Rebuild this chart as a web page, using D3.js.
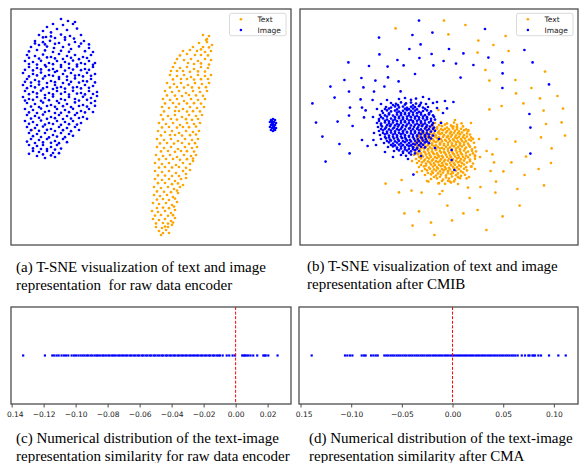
<!DOCTYPE html>
<html>
<head>
<meta charset="utf-8">
<script src="https://cdn.jsdelivr.net/npm/d3@7"></script>
<style>
body{margin:0;background:#fff}
svg{display:block}
.cap{font-family:"Liberation Serif","Times New Roman",serif;font-size:15px;fill:#000}
.tick text{font-family:"DejaVu Sans",sans-serif;font-size:7.5px;fill:#222}
.leg{font-family:"DejaVu Sans",sans-serif;font-size:7.5px;fill:#222}
</style>
</head>
<body>
<script>
// (a) raw encoder t-SNE
var textA = [
[26,46],[29,45.5],[27.5,43.5],[28,44],
[24,42],[28,42.5],[30.5,41],[21,40],[26,40],[25,38.8],[29,39.8],
[16,38],[19.5,38.5],[23,38],[27,37.5],[30,38],[25,36],[18,36.5],[14.5,35.8],[22,36],[28.5,35.8],
[13,34],[16.5,33.5],[20,34],[23.5,33],[27,34],[30,33.5],[21.5,31.5],[12,32],[18.5,32],[25,31.8],[29,31.2],
[11,30],[14.5,29.5],[18,30],[21.5,29],[25,30],[28.5,29.5],[16,28],[10,28],[13,28],[19.5,27.6],[23.5,27.8],[27,27.7],
[9.5,26],[13,25.5],[16.5,26],[20,25],[23.5,26],[27,25.5],[30,26],[18,24],[11,23.8],[15,24],[21.5,23.7],[25,23.9],[28.5,24],
[8,22],[11.5,21.5],[15,22],[18.5,21],[22,22],[25.5,21.5],[29,22],[13,20],[9.5,19.8],[16.5,19.7],[20.5,19.8],[24,19.6],[27.5,19.9],
[7,18],[10.5,17.5],[14,18],[17.5,17],[21,18],[24.5,17.5],[28,18],[19,16],[8,15.8],[12,15.7],[15.5,15.5],[22.5,15.8],[26,15.6],
[6,14],[9.5,13.5],[13,14],[16.5,13],[20,14],[23.5,13.5],[27,14],[11,12],[7,11.8],[14,11.6],[18,11.8],[21.5,11.9],[25,11.7],
[5.5,10],[9,9.5],[12.5,10],[16,9],[19.5,10],[23,9.5],[26.5,10],[14,8],[6.5,7.8],[12,8],[18,7.7],[21,7.9],[24.5,7.8],
[5,6],[8.5,5.5],[12,6],[15.5,5],[19,6],[22.5,5.5],[25.5,6],[10,4],[6,3.8],[13,3.7],[17.5,3.9],[20.5,3.6],[23.5,4],
[4,2],[7.5,1.5],[11,2],[14.5,1],[18,2],[21.5,1.5],[24.5,2],[16,0],[5.5,-0.2],[9,0],[13,-0.3],[19,-0.1],[22.5,0.2],
[3.5,-2],[7,-2.5],[10.5,-2],[14,-3],[17.5,-2],[21,-2.5],[24,-2],[12,-4],[5,-4.2],[9.5,-4],[15.5,-4.3],[19.5,-4.1],[22.5,-3.8],
[3,-6],[6.5,-6.5],[10,-6],[13.5,-7],[17,-6],[20.5,-6.5],[23.5,-6],[8,-8],[4.5,-8.2],[11.5,-8.3],[15.5,-8],[19,-8.4],[22,-8.1],
[3,-10],[6.5,-10.5],[10,-10],[13.5,-11],[17,-10],[20.5,-10.5],[23,-10],[15,-12],[5,-12.2],[8.5,-12],[12,-12.4],[18,-12.1],[21.5,-12.3],
[2.5,-14],[6,-14.5],[9.5,-14],[13,-15],[16.5,-14],[20,-14.5],[22.5,-14],[11,-16],[4,-16.2],[7.5,-16],[14.5,-16.4],[18,-16.1],[21,-15.8],
[2,-18],[5.5,-18.5],[9,-18],[12.5,-19],[16,-18],[19.5,-18.5],[21,-17],[7,-20],[4,-20.3],[10.5,-20.2],[14,-20],[17.5,-20.4],
[2,-22],[5.5,-22.5],[9,-22],[12.5,-23],[16,-22],[19.5,-21.5],[14,-24.5],[3.5,-24.2],[7,-24.3],[10.5,-24.5],[17.5,-23.5],
[2,-26],[5.5,-26.5],[9,-26],[12,-27],[15,-26],[17.5,-25.5],[7,-28],[3.5,-28.1],[10.5,-28.6],[13.5,-28.2],
[1.5,-30],[5,-30.5],[8.5,-30],[11.5,-31],[14.5,-30],[16,-29],[3,-32.2],[6.5,-32.4],[10,-32.6],[13,-31.8],
[1.5,-34],[4.5,-34.5],[8,-34],[11,-35],[13.5,-33],[6,-36],[3,-36.3],[9,-36.5],[12,-35.8],
[1,-38],[4,-38.5],[7.5,-38],[10.5,-39],[13,-37.5],[3,-40.5],[6,-40.3],[9,-40.6],[11.5,-39.8],
[0.5,-42],[3.5,-42.5],[7,-42],[10,-43],[12,-41.5],[5,-44],[2,-44.3],[8.5,-44.4],[11,-44.1],
[1,-46],[4,-46.5],[7,-46],[10,-47],[12,-45.5],[6,-48],[2.5,-48.2],[8.5,-48.3],[11,-47.8],
[2.5,-50],[5.5,-50.5],[8.5,-50],[10.5,-49],[4,-52],[7,-49.8],
[6,-53],[9,-53],[7.5,-51.5],[5,-54],[-59.5,-1.5]
]
var imageA = [
[-45,54],[-41.5,53],[-38,52.5],[-49,51.5],[-44,51],[-39,51.5],[-52,50],[-47,49],[-42,48.5],[-37,49.2],[-54,48],[-50,47.3],
[-56,46],[-45,46.2],[-40.5,45.5],[-35,46],[-52.5,45],[-48,44.5],[-54,44.8],[-50,45.3],[-43,44.8],[-38.5,44.2],
[-58,43],[-54,42.4],[-50.5,43.1],[-46,42],[-43,43.6],[-38,42.5],[-33.5,43],[-56,41],[-58,41.8],[-53,41.3],[-48,41.6],[-41,41.2],[-35,41.7],[-31,41.3],
[-60,40],[-52,40.2],[-48.5,39.5],[-44,40],[-40,39],[-36,40.3],[-31,39.5],[-57,38.5],[-49,37.5],[-61,37.8],[-53,38.3],[-45,38.1],[-41,37.6],[-33,37.9],[-29,37.5],
[-62,36],[-58,35.5],[-54,36.2],[-50,35],[-46,36.5],[-42,35.5],[-38,36],[-34,35],[-30,36],[-44,34],[-61,34.6],[-56,34.2],[-52,34.8],[-48,34.3],[-40,34.6],[-36,33.9],[-32,34.5],
[-63,33],[-59,32.5],[-55,33.1],[-51,32],[-47,33],[-43,32.5],[-39,33.2],[-35,32],[-31,33],[-28,32],[-53,31],[-61,31.5],[-57,31.2],[-49,31.4],[-45,31],[-41,31.6],[-37,31.2],[-33,31.5],[-29,31.1],
[-61,30],[-57,29.5],[-52.5,30.2],[-49,29],[-45,30],[-41,29.5],[-37,30.3],[-33,29],[-29,30],[-47,28],[-63,28.6],[-59,28.3],[-55,28.8],[-51,28.4],[-43,28.2],[-39,28.7],[-35,28.4],[-31,28.6],
[-64,27],[-59,26.5],[-55,27.2],[-51,26],[-48,27.5],[-44,26.5],[-40,27],[-36,26],[-32,27.1],[-28,26.5],[-46,25],[-61,25.3],[-57,25.8],[-53,25.4],[-49,25.6],[-42,25.2],[-38,25.7],[-34,25.3],[-30,25.6],
[-62,24],[-58,23.5],[-54,24.2],[-50,23],[-46,24],[-42,23.5],[-38,24.3],[-34,23],[-30,24],[-52,22],[-44,22],[-63,22.6],[-60,22.2],[-56,22.7],[-48,22.4],[-40,22.6],[-36,22.2],[-32,22.8],[-28,22.3],
[-64,21],[-60,20.5],[-56,21.2],[-52,20],[-48,21],[-45,20],[-41,21.3],[-37,20],[-33,21],[-29,20.5],[-49,19],[-62,19.4],[-58,19.8],[-54,19.3],[-47,19.6],[-43,19.2],[-39,19.7],[-35,19.3],[-31,19.6],
[-63,18],[-59,17.5],[-55,18.2],[-51,17],[-47,18],[-43,17.5],[-39,18.1],[-35,17],[-31,18],[-27,17.5],[-53,16],[-61,16.4],[-57,16.8],[-49,16.3],[-45,16.6],[-41,16.2],[-37,16.7],[-33,16.3],[-29,16.5],
[-64,15],[-61,14],[-57,15],[-53,14.5],[-49,15.2],[-45,14],[-41,15],[-38,14],[-34,15.1],[-30,14.5],[-27,15.5],[-63,13.2],[-59,13.6],[-55,13.1],[-51,13.4],[-47,13],[-43,13.5],[-36,13.2],[-32,13.6],[-28,13],
[-62,12],[-58,11.5],[-54,12.2],[-50,11],[-46,12],[-42,11.5],[-38,12.3],[-34,11],[-30,12],[-56,10],[-60,10.2],[-52,10.5],[-48,10.1],[-44,10.4],[-40,10],[-36,10.5],[-32,10.2],[-28,10.6],
[-63,9],[-59,8.5],[-55,9.2],[-51,8],[-47,9],[-43,8.5],[-39,9.1],[-35,8],[-31,9],[-48,7],[-61,7.3],[-57,7],[-53,7.5],[-45,7.1],[-41,7.4],[-37,7],[-33,7.3],[-29,7.5],
[-62,6],[-58,5.5],[-54,6.2],[-50,5],[-46,6],[-42,5.5],[-38,6],[-34,5],[-44,4],[-60,4.2],[-56,4.6],[-52,4.1],[-48,4.4],[-40,4.2],[-36,4.5],[-32,4.1],
[-63,3],[-59,2.5],[-55,3.2],[-51,2],[-47,3],[-43,2.5],[-39,3],[-35,2],[-57,1],[-61,1.6],[-53,1.2],[-49,1.5],[-45,1.1],[-41,1.4],[-37,1.2],
[-62,0],[-58,-0.5],[-54,0.2],[-50,-1],[-46,0],[-42,-0.5],[-38,0],[-36,-1.5],[-60,-1.6],[-56,-1.9],[-52,-1.4],[-48,-2],[-44,-1.6],[-40,-2.1],
[-61,-3],[-57,-3.5],[-53,-3],[-49,-4],[-45,-3],[-41,-3.5],[-55,-5],[-59,-4.6],[-51,-5.2],[-47,-4.8],[-43,-5.1],[-39,-4.4],
[-60,-6],[-56,-6.5],[-52,-6],[-48,-7],[-44,-6],[-58,-8],[-62,-7.3],[-54,-7.7],[-50,-7.9],[-46,-8.1],[-42,-7.6],
[-61,-9],[-57,-9.5],[-54,-9],[-50,-10],[-47,-9],[-55,-11],[-59,-10.7],[-52,-11],[-48,-11.3],[-45,-10.8],
[-59,-12],[-56,-12.5],[-52,-12],[-49,-13],[-61,-13.4],[-54,-13.7],[-50,-14.2],[-46,-13.1],
[-57,-14.5],[-53,-15.5],[-48,-15],
// small separate blob on the right
[60,3.5],[61,4],[62,3.5],[59.5,2.5],[60.5,2],[61.5,2.5],[62.5,2],[60,1],[61,0.5],[62,1],
[59.5,0],[60.5,-0.5],[61.5,0],[62.5,-0.5],[60,-1.5],[61,-2],[62,-1.5],[61,1.5],[60.5,3],[61.5,-1]
]

// (b) after CMIB t-SNE
var textB = [
[-2,2],[1,2.4],[4,1.8],[7.5,2.2],
[-3,1],[0,0.9],[3,1.2],[6,0.8],[9,1.1],
[-6,0],[-3.5,0.3],[-1,-0.2],[1.5,0.4],[4,-0.3],[6.5,0.2],[9,-0.1],[12,0.3],
[-7,-1],[-5,-0.9],[-3,-1.2],[-1,-0.8],[1,-1.1],[3,-0.9],[5,-1.2],[7,-0.8],[9,-1.1],[11,-0.9],[13.5,-1.2],
[-8.5,-2],[-6,-1.7],[-4,-2.3],[-2,-1.8],[0,-2.2],[2,-1.6],[4,-2.1],[6,-2.4],[8,-1.9],[10,-2.2],[12.5,-1.7],[14.5,-2.1],
[-9,-3],[-6.5,-3.1],[-4.5,-2.8],[-2.5,-3.2],[-0.5,-2.9],[1.5,-3.1],[3.5,-2.8],[5.5,-3.2],[7.5,-2.9],[9.5,-3.1],[11.5,-2.8],[14,-3.2],
[-10,-4],[-7.5,-3.7],[-5.5,-4.3],[-3.5,-3.8],[-1.5,-4.2],[0.5,-3.6],[2.5,-4.1],[4.5,-4.4],[6.5,-3.9],[8.5,-4.2],[10.5,-3.7],[12.5,-4.1],[15.5,-3.8],
[-10,-5],[-8,-5.2],[-6,-4.9],[-4,-5.1],[-2,-4.8],[0,-5.2],[2,-4.9],[4,-5.1],[6,-4.8],[8,-5.2],[10,-4.9],[12,-5.1],[14,-4.8],[16,-5.2],
[-11,-6],[-9,-5.7],[-7,-6.3],[-5,-5.8],[-3,-6.2],[-1,-5.6],[1,-6.1],[3,-6.4],[5,-5.9],[7,-6.2],[9,-5.7],[11,-6.1],[13,-5.8],[15,-6.3],[17,-5.9],
[-11,-7],[-8.5,-6.8],[-6.5,-7.2],[-4.5,-6.9],[-2.5,-7.1],[-0.5,-6.8],[1.5,-7.2],[3.5,-6.9],[5.5,-7.1],[7.5,-6.8],[9.5,-7.2],[11.5,-6.9],[13.5,-7.1],[16,-6.8],
[-12,-8],[-9.5,-7.7],[-7.5,-8.3],[-5.5,-7.8],[-3.5,-8.2],[-1.5,-7.6],[0.5,-8.1],[2.5,-8.4],[4.5,-7.9],[6.5,-8.2],[8.5,-7.7],[10.5,-8.1],[12.5,-7.8],[14.5,-8.3],[17.5,-7.9],
[-11,-9],[-9.5,-9.2],[-7.5,-8.8],[-5.5,-9.1],[-3.5,-8.9],[-1.5,-9.2],[0.5,-8.8],[2.5,-9.1],[4.5,-8.9],[6.5,-9.2],[8.5,-8.8],[10.5,-9.1],[12.5,-8.9],[15,-9.2],
[-12.5,-10],[-10.5,-9.7],[-8.5,-10.3],[-6.5,-9.8],[-4.5,-10.2],[-2.5,-9.6],[-0.5,-10.1],[1.5,-10.4],[3.5,-9.9],[5.5,-10.2],[7.5,-9.7],[9.5,-10.1],[11.5,-9.8],[13.5,-10.3],[15.5,-9.9],[18,-10.2],
[-11,-11],[-9.5,-11.2],[-7.5,-10.8],[-5.5,-11.1],[-3.5,-10.9],[-1.5,-11.2],[0.5,-10.8],[2.5,-11.1],[4.5,-10.9],[6.5,-11.2],[8.5,-10.8],[10.5,-11.1],[13,-10.9],[16.5,-11.2],
[-12,-12],[-9.5,-11.7],[-7.5,-12.3],[-5.5,-11.8],[-3.5,-12.2],[-1.5,-11.6],[0.5,-12.1],[2.5,-12.4],[4.5,-11.9],[6.5,-12.2],[8.5,-11.7],[10.5,-12.1],[12.5,-11.8],[14.5,-12.3],[16.5,-11.9],[18.5,-12.2],
[-11,-13],[-9,-13.2],[-7,-12.8],[-5,-13.1],[-3,-12.9],[-1,-13.2],[1,-12.8],[3,-13.1],[5,-12.9],[7,-13.2],[9,-12.8],[11,-13.1],[13.5,-12.9],[17,-13.2],
[-12.5,-14],[-10.5,-13.7],[-8.5,-14.3],[-6.5,-13.8],[-4.5,-14.2],[-2.5,-13.6],[-0.5,-14.1],[1.5,-14.4],[3.5,-13.9],[5.5,-14.2],[7.5,-13.7],[9.5,-14.1],[11.5,-13.8],[13.5,-14.3],[15.5,-13.9],[18,-14.2],
[-10,-15],[-8,-14.8],[-6,-15.2],[-4,-14.9],[-2,-15.1],[0,-14.8],[2,-15.2],[4,-14.9],[6,-15.1],[8,-14.8],[10,-15.2],[12,-14.9],[14.5,-15.1],
[-11.5,-16],[-9,-15.7],[-7,-16.3],[-5,-15.8],[-3,-16.2],[-1,-15.6],[1,-16.1],[3,-16.4],[5,-15.9],[7,-16.2],[9,-15.7],[11,-16.1],[13,-15.8],[15.5,-16.3],[18,-15.9],
[-10,-17],[-7.5,-16.9],[-5.5,-17.2],[-3.5,-16.8],[-1.5,-17.1],[0.5,-16.9],[2.5,-17.2],[4.5,-16.8],[6.5,-17.1],[8.5,-16.9],[10.5,-17.2],[12.5,-16.8],[15.5,-17.1],
[-11,-18],[-8.5,-17.7],[-6.5,-18.3],[-4.5,-17.8],[-2.5,-18.2],[-0.5,-17.6],[1.5,-18.1],[3.5,-18.4],[5.5,-17.9],[7.5,-18.2],[9.5,-17.7],[11.5,-18.1],[14,-17.8],[17,-18.3],
[-9,-19],[-6.5,-19.2],[-4,-18.8],[-2,-19.1],[0,-18.9],[2,-19.2],[4,-18.8],[6,-19.1],[8,-18.9],[10,-19.2],[12.5,-18.8],
[-10,-20],[-7.5,-19.7],[-5,-20.3],[-3,-19.8],[-1,-20.2],[1,-19.6],[3,-20.1],[5,-20.4],[7,-19.9],[9,-20.2],[11,-19.7],[13.5,-20.1],[16,-19.8],
[-7,-21],[-4.5,-20.9],[-2.5,-21.2],[-0.5,-20.8],[1.5,-21.1],[3.5,-20.9],[5.5,-21.2],[7.5,-20.8],[10,-21.1],[12.5,-20.9],
[-8.5,-22],[-6,-21.7],[-3.5,-22.3],[-1.5,-21.8],[0.5,-22.2],[2.5,-21.6],[4.5,-22.1],[6.5,-22.4],[8.5,-21.9],[11,-22.2],[14,-21.7],
[-5.5,-23],[-3,-22.9],[-0.5,-23.2],[2,-22.8],[4.5,-23.1],[7,-22.9],[9.5,-23.2],[12,-22.8],
[-7,-24],[-4,-23.7],[-1.5,-24.3],[1,-23.8],[3.5,-24.2],[6,-23.6],[8.5,-24.1],[11,-24.4],[13,-23.9],
[-2.5,-25],[0.5,-24.9],[3.5,-25.2],[6.5,-24.8],[9.5,-25.1],
[-4,-26],[-1,-25.7],[2,-26.3],[5,-25.8],[8,-26.2],[10.5,-25.6],
[1.5,-27],[4.5,-26.9],[7.5,-27.2],
[0,-28],[3,-28.4],[6,-27.8],
[-14,-9],[-13.5,-17],[-11,-22.5],[20,-6],[20.5,-15],[18,-21],[15,-25],[-6,-27],[9.5,-28.5],[16,2],[-9,1.5],
// sparse ring
[-21.7,49.3],[2.5,53.2],[13.2,51],[4.7,46.3],[19.7,43.2],[27.2,41],[33.3,45.5],[19.3,37.2],[34.8,38],[23.2,28.5],
[25.2,23.2],[53,27.7],[38.2,23.5],[46.2,19.5],[38.5,16.8],[31.3,10.5],[25.2,8.8],[50.5,14.3],[59.2,15.5],[42.2,11.8],
[52.3,8.2],[62,9.2],[53.5,1.5],[61.3,2.3],[63,-4.3],[51,-5.2],[56.3,-10.7],[56,-18],[49.8,-21],[52.5,-29.2],
[43.5,-14.8],[38.2,-7.3],[28.8,-6],[36.2,-17.7],[27.5,-17.7],[32.2,-22.2],[25.8,-22],[28.5,-27.3],[42.8,-24],[39.2,-31],
[28.2,-32.8],[20.7,-30],[14.5,-30.3],[15.3,-35.5],[19.3,-41.5],[12.2,-43.2],[6.5,-46.7],[4.2,-39.3],[31.8,-44.7],[40.3,-39.3],
[23.7,-51.5],[-2.3,-54],[-4,-47.8],[-13.2,-49.3],[-10,-42.2],[-17.3,-43.2],[-20,-32.7],[-13.7,-31.8],[-8.7,-32.8],[0.3,-33.5],
[1.7,-32],[-26.7,-28.3],[-18.7,-26.5],[26.7,-13.7],[23.8,-12],[16.3,-19.8],[18,-14.8],[13.8,-25.7],[5.5,-27.3],[-0.3,-28.2],
[-5.3,-27.3],[14.7,-1.5],[11.3,1.8],[8,3.5],[-0.3,8.5],[7.2,0.2]
]
var imageB = [
[-20,14],[-17,14.5],[-14,13.6],[-11.5,14.2],[-5,14],[-1,12.5],[3,13],
[-24,12],[-21.5,11.6],[-19,12.3],[-16.5,11.8],[-14,12.2],[-11.5,11.7],[-9,12.1],[-6.5,11.5],
[-23,11],[-20.5,10.9],[-17,11.2],[-13,10.8],[-9.5,11.1],
[-26.5,10],[-24,9.7],[-22,10.3],[-20,9.8],[-18,10.2],[-16,9.6],[-14,10.1],[-12,9.9],[-10,10.4],[-8,9.7],[-5.5,10],
[-27,9],[-25,9.2],[-21,8.8],[-17,9.1],[-15,8.9],[-13,9.2],[-11,8.8],[-7,9.1],
[-28.5,8],[-26,8.3],[-24,7.8],[-22,8.2],[-20,7.7],[-18,8.1],[-16,8.4],[-14,7.9],[-12,8.2],[-10,7.6],[-8,8],[-6,8.3],[-4,7.8],
[-28,7],[-25,6.8],[-21,7.2],[-19,6.9],[-17,7.1],[-15,6.8],[-13,7.2],[-11,6.9],[-9,7.1],[-5,6.9],
[-29.5,6],[-27,5.8],[-25,6.3],[-23,5.7],[-21,6.2],[-19,5.9],[-17,6.4],[-15,5.8],[-13,6.1],[-11,5.6],[-9,6.2],[-7,5.9],[-5,6.3],[-3,5.8],
[-29,5],[-26,5.2],[-22,4.9],[-20,5.1],[-18,4.8],[-16,5.2],[-14,4.9],[-12,5.1],[-10,4.8],[-8,5.2],[-6,4.9],[-2.5,5.1],
[-30,4],[-28,4.3],[-26,3.7],[-24,4.2],[-22,3.8],[-20,4.4],[-18,3.9],[-16,4.1],[-14,3.6],[-12,4.2],[-10,3.8],[-8,4.3],[-6,3.9],[-4,4.1],[-2,3.7],
[-30,3],[-27,3.1],[-25,2.8],[-23,3.2],[-21,2.9],[-19,3.1],[-17,2.8],[-15,3.2],[-13,2.9],[-11,3.1],[-9,2.8],[-7,3.2],[-4,3],
[-31,2],[-29,1.7],[-27,2.3],[-25,1.8],[-23,2.2],[-21,1.6],[-19,2.1],[-17,2.4],[-15,1.9],[-13,2.2],[-11,1.7],[-9,2.1],[-7,1.8],[-5,2.3],[-3,1.9],
[-29,1],[-26,0.9],[-24,1.2],[-22,0.8],[-20,1.1],[-18,0.9],[-16,1.2],[-14,0.8],[-12,1.1],[-10,0.9],[-8,1.2],[-6,0.8],[-3.5,1],
[-30.5,0],[-28.5,0.3],[-26.5,-0.2],[-24.5,0.4],[-22.5,-0.3],[-20.5,0.2],[-18.5,-0.1],[-16.5,0.3],[-14.5,-0.4],[-12.5,0.1],[-10.5,-0.2],[-8.5,0.4],[-6.5,-0.1],[-4.5,0.2],[-2.5,-0.3],
[-29,-1],[-27,-0.9],[-25,-1.2],[-23,-0.8],[-21,-1.1],[-19,-0.9],[-17,-1.2],[-15,-0.8],[-13,-1.1],[-11,-0.9],[-9,-1.2],[-7,-0.8],[-5,-1.1],[-3,-0.9],
[-30,-2],[-28,-1.7],[-26,-2.3],[-24,-1.8],[-22,-2.2],[-20,-1.6],[-18,-2.1],[-16,-2.4],[-14,-1.9],[-12,-2.2],[-10,-1.7],[-8,-2.1],[-6,-1.8],[-4,-2.3],[-2,-1.9],
[-28,-3],[-26,-3.1],[-24,-2.8],[-22,-3.2],[-20,-2.9],[-18,-3.1],[-16,-2.8],[-14,-3.2],[-12,-2.9],[-10,-3.1],[-8,-2.8],[-6,-3.2],
[-29.5,-4],[-27,-3.7],[-25,-4.3],[-23,-3.8],[-21,-4.2],[-19,-3.6],[-17,-4.1],[-15,-4.4],[-13,-3.9],[-11,-4.2],[-9,-3.7],[-7,-4.1],[-5,-3.8],[-3,-4.3],
[-27,-5],[-25,-5.2],[-23,-4.9],[-21,-5.1],[-19,-4.8],[-17,-5.2],[-15,-4.9],[-13,-5.1],[-11,-4.8],[-9,-5.2],[-7,-4.9],[-5,-5.1],
[-29,-6],[-26.5,-5.7],[-24.5,-6.3],[-22.5,-5.8],[-20.5,-6.2],[-18.5,-5.6],[-16.5,-6.1],[-14.5,-6.4],[-12.5,-5.9],[-10.5,-6.2],[-8.5,-5.7],[-6.5,-6.1],[-4,-5.8],
[-26,-7],[-24,-6.8],[-22,-7.2],[-20,-6.9],[-18,-7.1],[-16,-6.8],[-14,-7.2],[-12,-6.9],[-10,-7.1],[-8,-6.8],[-6,-7.2],
[-27.5,-8],[-25,-7.7],[-23,-8.3],[-21,-7.8],[-19,-8.2],[-17,-7.6],[-15,-8.1],[-13,-8.4],[-11,-7.9],[-9,-8.2],[-7,-7.7],[-5,-8.1],
[-24,-9],[-22,-9.2],[-20,-8.8],[-18,-9.1],[-16,-8.9],[-14,-9.2],[-12,-8.8],[-10,-9.1],[-8,-8.9],
[-25.5,-10],[-23,-9.7],[-21,-10.3],[-19,-9.8],[-17,-10.2],[-15,-9.6],[-13,-10.1],[-11,-10.4],[-9,-9.9],[-7,-10.2],
[-21,-11],[-19,-10.8],[-17,-11.2],[-15,-10.9],[-13,-11.1],[-11,-10.8],
[-22.5,-12],[-20,-11.7],[-18,-12.3],[-16,-11.8],[-14,-12.2],[-12,-11.6],[-10,-12.1],
[-18,-13],[-15,-12.9],[-12,-13.2],
[-19,-14],[-16.5,-14.4],[-14,-13.8],
[-31,9],[-33,5],[-32.5,-3],[-31.5,-9],[-27,-12.5],[-23,-15],[-15.5,-16],[-9,-14.5],[-2,-10.5],[0,-6],[1,2],[2,7],[-1,9.5],[-3,12],[-8,15],[-26,13.5],[-29,11.5],
// sparse ring
[-10,53.2],[-13.3,46],[-3.3,47.2],[-30,44.7],[-9.2,41.3],[-14.8,39],[-3.7,36.5],[5,39],[12.2,36.8],[23,49],
[-29.8,36.3],[-45.3,32.3],[-35,30.5],[-25.7,30.2],[-20.8,33.5],[-17.7,30.8],[-9.8,34.5],[-2.8,30.8],[2.3,33],[8.5,31.7],
[17.2,31],[24.7,34.7],[31.7,32.3],[42.7,38.5],[46.8,32.3],[31.8,26.8],[10.8,24.7],[-12,26.5],[-47.3,23.5],[-38.8,24.5],
[-31.8,23.2],[-25.5,24.8],[-20.2,22.8],[-54.3,20.2],[-45,17.7],[-37.8,19.8],[-32.5,17.7],[-27.3,20.2],[-19.2,17.8],[-52.2,14.7],
[-39.2,13.8],[-33.2,13.5],[-63.3,11.8],[-44.5,9.7],[-38.5,9.7],[-36.7,8.3],[-45,5.7],[-37.5,4.8],[-50.7,2.7],[-61.5,2.2],
[-43.2,0.5],[-58.3,-4.8],[-49.8,-8.5],[-44.7,-13.2],[-56.7,-17.3],[-38.5,-6.5],[-35.7,-9.5],[-32.8,-6.5],[45.2,6.5],[45.7,-0.3],
[45.7,-13.3],[55,21.3],[31.7,19.5],[7.2,12.5],[4,9.3],[6.3,-16.5],[-12.8,-23.8],[7.7,-21.5],[6.3,-11.5]
]

// (c), (d) text-image similarity
var simC = [-0.1328,-0.1192,-0.1146,-0.1134,-0.1119,-0.1106,-0.1088,-0.1073,-0.1060,-0.1046,-0.1025,-0.1010,-0.0998,-0.0983,-0.0969,-0.0956,
-0.0944,-0.0931,-0.0921,-0.0907,-0.0896,-0.0882,-0.0870,-0.0861,-0.0847,-0.0833,-0.0824,-0.0810,-0.0796,-0.0787,-0.0772,-0.0761,
-0.0749,-0.0734,-0.0724,-0.0710,-0.0699,-0.0685,-0.0675,-0.0660,-0.0650,-0.0636,-0.0625,-0.0611,-0.0601,-0.0586,-0.0576,-0.0562,
-0.0551,-0.0537,-0.0527,-0.0512,-0.0502,-0.0488,-0.0477,-0.0463,-0.0453,-0.0438,-0.0428,-0.0414,-0.0403,-0.0389,-0.0379,-0.0364,
-0.0354,-0.0340,-0.0329,-0.0315,-0.0305,-0.0290,-0.0280,-0.0266,-0.0255,-0.0241,-0.0231,-0.0216,-0.0206,-0.0192,-0.0181,-0.0167,
-0.0157,-0.0142,-0.0132,-0.0118,-0.0107,-0.0098,-0.0081,-0.0056,-0.0040,-0.0019,-0.0004,
0.0041,0.0050,0.0058,0.0068,0.0079,0.0093,0.0110,0.0135,0.0173,0.0181,0.0188,0.0204,0.0262]
var simD = [-0.1390,-0.1061,-0.1038,-0.1012,-0.0988,-0.0896,-0.0873,-0.0857,-0.0804,-0.0781,-0.0758,-0.0738,
-0.0673,-0.0653,-0.0634,-0.0612,-0.0593,-0.0574,-0.0552,-0.0533,-0.0514,-0.0493,-0.0473,-0.0455,-0.0433,-0.0414,-0.0395,-0.0374,
-0.0354,-0.0335,-0.0314,-0.0295,-0.0276,-0.0254,-0.0235,-0.0216,-0.0194,-0.0175,-0.0156,-0.0135,-0.0116,-0.0097,-0.0075,-0.0056,
-0.0037,-0.0015,0.0004,0.0023,0.0045,0.0064,0.0083,0.0104,0.0124,0.0143,0.0164,0.0183,0.0202,0.0224,0.0243,0.0262,0.0283,0.0302,
0.0322,0.0343,0.0362,0.0381,0.0402,0.0421,0.0441,0.0462,0.0481,0.0500,0.0521,0.0540,0.0560,0.0581,0.0600,0.0620,0.0643,
0.0683,0.0715,0.0748,0.0760,0.0788,0.0800,0.0814,0.0847,0.0873,0.0952,0.1044,0.1117]

var ticksC = [-0.14,-0.12,-0.10,-0.08,-0.06,-0.04,-0.02,0.00,0.02]
var ticksD = [-0.15,-0.10,-0.05,0.00,0.05,0.10]
var legendLabels = ['Text', 'Image']

var captions = [
  {x: 16, y: 271.5, lines: ['(a) T-SNE visualization of text and image', 'representation  for raw data encoder']},
  {x: 307, y: 271, lines: ['(b) T-SNE visualization of text and image', 'representation after CMIB']},
  {x: 16, y: 443, lines: ['(c) Numerical distribution of the text-image', 'representation similarity for raw data encoder']},
  {x: 309, y: 442.5, lines: ['(d) Numerical distribution of the text-image', 'representation similarity after CMA']}
]

var orange = '#ffa500', blue = '#0000ff', frame = '#4d4d4d'

var svg = d3.select('body').append('svg').attr('width', 587).attr('height', 463)
var defs = svg.append('defs')

function scatter(id, x0, x1, y0, y1, xd, text, image){
  var x = d3.scaleLinear().domain(xd).range([x0, x1])
  var y = d3.scaleLinear().domain([-59, 59]).range([y1, y0])
  defs.append('clipPath').attr('id', id).append('rect')
    .attr('x', x0).attr('y', y0).attr('width', x1 - x0).attr('height', y1 - y0)
  var g = svg.append('g')
  var pts = g.append('g').attr('clip-path', 'url(#' + id + ')')
  ;[[text, orange], [image, blue]].forEach(function(s){
    pts.selectAll(null).data(s[0]).enter().append('circle')
      .attr('cx', d => x(d[0])).attr('cy', d => y(d[1]))
      .attr('r', 1.35).attr('fill', s[1])
  })
  g.append('rect').attr('x', x0).attr('y', y0).attr('width', x1 - x0).attr('height', y1 - y0)
    .attr('fill', 'none').attr('stroke', frame).attr('stroke-width', 1.3)

  var lx = x1 - 61.5, ly = y0 + 4.3
  var leg = g.append('g').attr('transform', 'translate(' + lx + ',' + ly + ')')
  leg.append('rect').attr('width', 56.5).attr('height', 22.4).attr('rx', 2)
    .attr('fill', '#fff').attr('fill-opacity', 0.8).attr('stroke', '#d0d0d0').attr('stroke-width', 0.8)
  legendLabels.forEach(function(l, i){
    leg.append('circle').attr('cx', 11.4).attr('cy', 6 + i * 10.7).attr('r', 1.3)
      .attr('fill', i ? blue : orange)
    leg.append('text').attr('class', 'leg').attr('x', 28).attr('y', 8.8 + i * 10.7).text(l)
  })
}

function strip(id, x0, x1, y0, y1, xd, clipX, vals, ticks){
  var x = d3.scaleLinear().domain(xd).range([x0, x1])
  var y = d3.scaleLinear().domain([-1, 1]).range([y1, y0])
  defs.append('clipPath').attr('id', id).append('rect')
    .attr('x', clipX[0]).attr('y', 0).attr('width', clipX[1] - clipX[0]).attr('height', 463)
  var g = svg.append('g').attr('clip-path', 'url(#' + id + ')')
  g.selectAll(null).data(vals).enter().append('rect')
    .attr('x', d => x(d) - 1.1).attr('y', y(0) - 1.1).attr('width', 2.2).attr('height', 2.2).attr('fill', blue)
  g.append('line').attr('x1', x(0)).attr('x2', x(0)).attr('y1', y0).attr('y2', y1)
    .attr('stroke', '#ff0000').attr('stroke-width', 1).attr('stroke-dasharray', '3,1.6')
  g.append('rect').attr('x', x0).attr('y', y0).attr('width', x1 - x0).attr('height', y1 - y0)
    .attr('fill', 'none').attr('stroke', frame).attr('stroke-width', 1.3)
  var ax = g.append('g').attr('transform', 'translate(0,' + y1 + ')')
    .call(d3.axisBottom(x).tickValues(ticks).tickFormat(d3.format('.2f')).tickSize(3.5).tickPadding(4))
  ax.select('.domain').remove()
  ax.selectAll('.tick line').attr('stroke', frame).attr('stroke-width', 1)
}

scatter('clipA', 11, 291, 9, 245, [-70, 70], textA, imageA)
scatter('clipB', 300, 578, 9, 245, [-69.5, 69.5], textB, imageB)
strip('clipC', 11, 291, 307, 404, [-0.1404, 0.0346], [6.5, 296], simC, ticksC)
strip('clipD', 299, 578, 307, 404, [-0.1515, 0.1238], [295.3, 587], simD, ticksD)

captions.forEach(function(c){
  var t = svg.append('text').attr('class', 'cap').attr('x', c.x).attr('y', c.y).attr('xml:space', 'preserve')
  c.lines.forEach(function(l, i){
    t.append('tspan').attr('x', c.x).attr('dy', i ? 18 : 0).text(l)
  })
})
</script>
</body>
</html>
